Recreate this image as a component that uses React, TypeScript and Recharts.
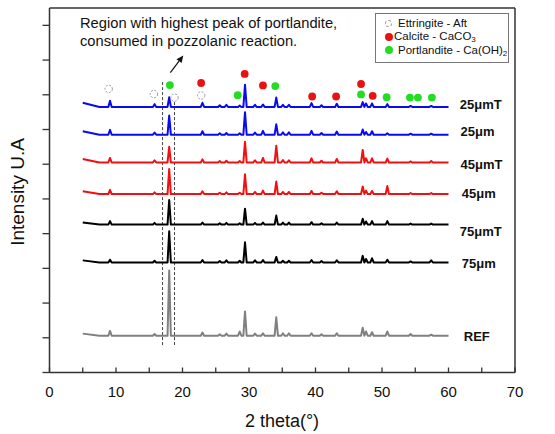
import { ComposedChart, Line, XAxis, YAxis, ReferenceLine, ReferenceDot } from 'recharts';

// 2θ positions of the peaks that show up in every pattern
const peakTheta = [9.1, 15.8, 18.0, 23.0, 25.6, 26.6, 28.6, 29.4, 30.9, 32.1, 34.1, 35.1, 36.0, 39.4, 40.9, 43.2, 47.1, 47.6, 48.5, 50.8, 54.3, 57.4];

const seriesNames = ['25μmT', '25μm', '45μmT', '45μm', '75μmT', '75μm', 'REF'];
const baselines = [7.65, 6.85, 6.05, 5.14, 4.26, 3.17, 1.06];
const startLift = [0.12, 0.1, 0.1, 0.08, 0.06, 0.06, 0.06];

// peak heights above each baseline, same order as peakTheta
const h25T = [0.18, 0.08, 0.28, 0.12, 0.05, 0.06, 0.04, 0.64, 0.06, 0.07, 0.27, 0.06, 0.06, 0.11, 0.05, 0.09, 0.14, 0.1, 0.1, 0.08, 0.03, 0.03];
const h25 = [0.14, 0.06, 0.55, 0.1, 0.04, 0.05, 0.04, 0.65, 0.06, 0.11, 0.3, 0.07, 0.07, 0.11, 0.05, 0.09, 0.15, 0.08, 0.1, 0.04, 0.03, 0.03];
const h45T = [0.13, 0.06, 0.45, 0.09, 0.04, 0.05, 0.04, 0.6, 0.06, 0.13, 0.48, 0.07, 0.06, 0.12, 0.05, 0.1, 0.36, 0.12, 0.12, 0.11, 0.03, 0.04];
const h45 = [0.12, 0.05, 0.72, 0.08, 0.04, 0.05, 0.04, 0.57, 0.06, 0.1, 0.36, 0.06, 0.06, 0.09, 0.04, 0.08, 0.22, 0.1, 0.09, 0.23, 0.03, 0.03];
const h75T = [0.1, 0.05, 0.71, 0.06, 0.04, 0.05, 0.04, 0.46, 0.05, 0.06, 0.26, 0.06, 0.06, 0.07, 0.04, 0.06, 0.17, 0.09, 0.1, 0.1, 0.03, 0.03];
const h75 = [0.08, 0.05, 0.9, 0.07, 0.04, 0.06, 0.05, 0.58, 0.06, 0.07, 0.16, 0.05, 0.05, 0.07, 0.04, 0.06, 0.19, 0.1, 0.12, 0.08, 0.03, 0.06];
const hRef = [0.14, 0.05, 1.88, 0.09, 0.04, 0.06, 0.12, 0.7, 0.06, 0.07, 0.53, 0.07, 0.07, 0.07, 0.04, 0.07, 0.23, 0.12, 0.1, 0.12, 0.05, 0.03];
const heights = [h25T, h25, h45T, h45, h75T, h75, hRef];

// phase markers
const ettringiteX = [8.9, 15.7, 18.8, 22.8];
const ettringiteY = [8.17, 8.02, 7.92, 7.98];
const calciteX = [22.8, 29.35, 32.1, 39.5, 43.1, 46.85, 48.6];
const calciteY = [8.34, 8.6, 8.27, 7.95, 7.95, 8.31, 7.97];
const portlanditeX = [18.1, 28.3, 33.95, 46.85, 50.7, 54.2, 55.4, 57.5];
const portlanditeY = [8.28, 7.99, 8.25, 8.01, 7.93, 7.92, 7.92, 7.92];

const xTicks = [0, 5, 10, 15, 20, 25, 30, 35, 40, 45, 50, 55, 60, 65, 70];
const yTicks = [0, 1, 2, 3, 4, 5, 6, 7, 8, 9, 10];

const colors = ['#0a0af0', '#0a0af0', '#f01010', '#f01010', '#000000', '#000000', '#808080'];
const labelAt = [[61.7, 7.71], [61.8, 6.94], [61.8, 5.98], [62.0, 5.16], [61.7, 4.07], [62.0, 3.15], [62.3, 1.05]];

const FONT = '"Liberation Sans", Arial, sans-serif';
const AXIS = '#333';

function buildTrace(i: number) {
  const base = baselines[i];
  const pts = [{ x: 5, y: base + startLift[i] }, { x: 7.5, y: base }];
  peakTheta.forEach((p, k) => {
    pts.push({ x: p - 0.25, y: base }, { x: p, y: base + heights[i][k] }, { x: p + 0.25, y: base });
  });
  pts.push({ x: 60, y: base });
  return pts;
}

const traces = seriesNames.map((_, i) => buildTrace(i));

const XTick = (props: any) => {
  const { x, y, payload } = props;
  return (
    <g>
      <line x1={x} x2={x} y1={y} y2={y - 5} stroke={AXIS} strokeWidth={1.3} />
      {payload.value % 10 === 0 && (
        <text x={x} y={y + 24} textAnchor="middle" fontSize={15} fontFamily={FONT} fill="#111">
          {payload.value}
        </text>
      )}
    </g>
  );
};

const YTick = (props: any) => {
  const { y } = props;
  return <line x1={42.5} x2={49.5} y1={y} y2={y} stroke={AXIS} strokeWidth={1.3} />;
};

const Arrow = (p: any) => {
  const { x1, y1, x2, y2 } = p;
  const dx = x2 - x1, dy = y2 - y1;
  const len = Math.hypot(dx, dy) || 1;
  const ux = dx / len, uy = dy / len;
  const bx = x2 - ux * 7, by = y2 - uy * 7;
  const pts = `${x2},${y2} ${bx - uy * 3.2},${by + ux * 3.2} ${bx + uy * 3.2},${by - ux * 3.2}`;
  return (
    <g>
      <line x1={x1} y1={y1} x2={bx} y2={by} stroke="#111" strokeWidth={1.2} />
      <polygon points={pts} fill="#111" />
    </g>
  );
};

const sub = { fontSize: 8, position: 'relative' as const, top: 3 };

const LegendBox = () => (
  <div style={{ position: 'absolute', left: 375, top: 12.5, border: '1px solid #777', width: 134, height: 50, boxSizing: 'border-box', background: '#fff', fontFamily: FONT, fontSize: 11.5, color: '#111', padding: '3px 0 0 7px', lineHeight: '13.5px', whiteSpace: 'nowrap' }}>
    <div style={{ display: 'flex', alignItems: 'center' }}>
      <span style={{ width: 7, height: 7, borderRadius: '50%', border: '1px dashed #999', boxSizing: 'border-box', marginRight: 6, marginLeft: 2 }} />
      Ettringite - Aft
    </div>
    <div style={{ display: 'flex', alignItems: 'center' }}>
      <span style={{ width: 8, height: 8, borderRadius: '50%', background: '#e81212', marginRight: 1, marginLeft: 2 }} />
      Calcite - CaCO<span style={sub}>3</span>
    </div>
    <div style={{ display: 'flex', alignItems: 'center' }}>
      <span style={{ width: 8, height: 8, borderRadius: '50%', background: '#22dd22', marginRight: 5, marginLeft: 2 }} />
      Portlandite - Ca(OH)<span style={sub}>2</span>
    </div>
  </div>
);

export default function App() {
  return (
    <div style={{ position: 'absolute', left: 0, top: 0, width: 555, height: 434, background: '#fff' }}>
      <ComposedChart width={555} height={434} margin={{ top: 8, right: 40, bottom: 21.5, left: 0 }}>
        <XAxis
          type="number"
          dataKey="x"
          domain={[0, 70]}
          ticks={xTicks}
          interval={0}
          allowDuplicatedCategory={false}
          tickLine={false}
          tickSize={0}
          tickMargin={0}
          tick={<XTick />}
          height={40}
          axisLine={{ stroke: AXIS, strokeWidth: 1.5 }}
          label={() => (
            <text x={282} y={426.5} textAnchor="middle" fontSize={18} fontFamily={FONT} fill="#111">
              2 theta(°)
            </text>
          )}
        />
        <YAxis
          type="number"
          domain={[0, 10.5]}
          ticks={yTicks}
          interval={0}
          tick={<YTick />}
          tickLine={false}
          axisLine={{ stroke: AXIS, strokeWidth: 1.5 }}
          width={49.5}
          label={() => (
            <text x={24} y={192} transform="rotate(-90 24 192)" textAnchor="middle" fontSize={19} fontFamily={FONT} fill="#111">
              Intensity U.A
            </text>
          )}
        />
        <ReferenceLine segment={[{ x: 0, y: 10.5 }, { x: 70, y: 10.5 }]} stroke={AXIS} strokeWidth={1.5} />
        <ReferenceLine segment={[{ x: 70, y: 0 }, { x: 70, y: 10.5 }]} stroke={AXIS} strokeWidth={1.5} />
        <ReferenceLine segment={[{ x: 17.0, y: 0.79 }, { x: 17.0, y: 8.4 }]} stroke="#444" strokeDasharray="3 2" strokeWidth={1} />
        <ReferenceLine segment={[{ x: 18.8, y: 0.79 }, { x: 18.8, y: 7.85 }]} stroke="#444" strokeDasharray="3 2" strokeWidth={1} />
        <ReferenceLine segment={[{ x: 18.17, y: 8.64 }, { x: 20.12, y: 9.13 }]} shape={<Arrow />} />
        {traces.map((d, i) => (
          <Line
            key={seriesNames[i]}
            data={d}
            dataKey="y"
            type="linear"
            stroke={colors[i]}
            strokeWidth={2}
            strokeLinejoin="round"
            dot={false}
            isAnimationActive={false}
          />
        ))}
        {seriesNames.map((name, i) => (
          <ReferenceDot
            key={'lbl' + name}
            x={labelAt[i][0]}
            y={labelAt[i][1]}
            r={0}
            shape={(p: any) => (
              <text x={p.cx} y={p.cy + 4.5} fontSize={13} fontWeight="bold" fontFamily={FONT} fill="#111">
                {name}
              </text>
            )}
          />
        ))}
        {ettringiteX.map((x, i) => (
          <ReferenceDot key={'e' + i} x={x} y={ettringiteY[i]} r={3.7} fill="#fff" stroke="#999" strokeWidth={1} strokeDasharray="2 1.5" />
        ))}
        {calciteX.map((x, i) => (
          <ReferenceDot key={'c' + i} x={x} y={calciteY[i]} r={3.9} fill="#e81212" stroke="none" />
        ))}
        {portlanditeX.map((x, i) => (
          <ReferenceDot key={'p' + i} x={x} y={portlanditeY[i]} r={3.9} fill="#22dd22" stroke="none" />
        ))}
      </ComposedChart>
      <LegendBox />
      <div style={{ position: 'absolute', left: 80, top: 13.5, fontFamily: FONT, fontSize: 14.7, lineHeight: '18px', color: '#111', whiteSpace: 'nowrap' }}>
        Region with highest peak of portlandite,
        <br />
        consumed in pozzolanic reaction.
      </div>
    </div>
  );
}
